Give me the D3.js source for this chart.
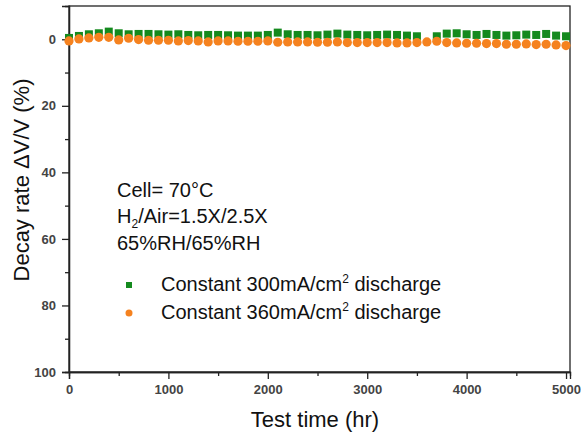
<!DOCTYPE html>
<html>
<head>
<meta charset="utf-8">
<script src="https://cdn.jsdelivr.net/npm/d3@7"></script>
<style>
  body { margin: 0; background: #fff; }
  svg text { font-family: "Liberation Sans", Arial, sans-serif; }
</style>
</head>
<body>
<svg id="chart" width="581" height="436"></svg>
<script>
// ---- data ----
const times = [0,100,200,300,400,500,600,700,800,900,1000,1100,1200,1300,1400,1500,1600,1700,1800,1900,
  2000,2100,2200,2300,2400,2500,2600,2700,2800,2900,3000,3100,3200,3300,3400,3500,3600,3700,3800,3900,
  4000,4100,4200,4300,4400,4500,4600,4700,4800,4900,5000];
const decay300 = [-0.4,-1.0,-1.5,-1.8,-2.3,-1.8,-1.5,-1.6,-1.6,-1.5,-1.4,-1.5,-1.3,-1.2,-1.3,-1.3,-1.2,-1.1,-1.1,-1.1,
  -1.3,-2.0,-1.5,-1.3,-1.3,-1.2,-1.4,-1.7,-1.4,-1.3,-1.2,-1.3,-1.4,-1.3,-1.1,-0.9,null,-0.9,-1.7,-1.8,
  -1.5,-1.3,-1.6,-1.3,-1.1,-1.2,-1.4,-1.3,-1.6,-1.1,-0.9];
const decay360 = [0.5,-0.1,-0.4,-0.6,-0.6,0.2,-0.3,0.1,0.3,0.3,0.3,0.5,0.4,0.5,0.8,0.5,0.5,0.6,0.6,0.6,
  0.5,0.9,0.8,0.8,0.8,0.9,0.9,0.8,1.0,1.0,1.0,1.0,1.0,1.1,1.1,1.0,0.8,0.6,1.0,1.1,
  1.2,1.2,1.3,1.3,1.5,1.5,1.4,1.6,1.5,1.7,1.9];
const xTicks = [0,1000,2000,3000,4000,5000];
const xMinorTicks = [500,1500,2500,3500,4500];
const yTicks = [0,20,40,60,80,100];
const yMinorTicks = [10,30,50,70,90];
const seriesNames = ["Constant 300mA/cm", "Constant 360mA/cm"];
const seriesColors = ["#148a1e", "#f5821f"];
const notes = ["Cell= 70°C", "65%RH/65%RH"];

// ---- layout ----
const svg = d3.select("#chart");
const L = 69, R = 570, T = 6, B = 372;
const x = d3.scaleLinear().domain([0, 5040]).range([L, R]);
const y = d3.scaleLinear().domain([-10, 100]).range([T, B]);
const axisColor = "#222";

// frame
svg.append("rect").attr("x", L).attr("y", T).attr("width", R - L).attr("height", B - T)
  .attr("fill", "none").attr("stroke", axisColor).attr("stroke-width", 1.3);

// x axis
const gx = svg.append("g").attr("transform", `translate(0,${B})`);
gx.call(d3.axisBottom(x).tickValues(xTicks).tickSize(7).tickPadding(6).tickFormat(d3.format("d")));
gx.append("g").call(d3.axisBottom(x).tickValues(xMinorTicks).tickSize(4).tickFormat(""));
// y axis
const gy = svg.append("g").attr("transform", `translate(${L},0)`);
gy.call(d3.axisLeft(y).tickValues(yTicks).tickSize(7).tickPadding(6).tickFormat(d3.format("d")));
gy.append("g").call(d3.axisLeft(y).tickValues(yMinorTicks).tickSize(4).tickFormat(""));

svg.selectAll(".domain").attr("stroke", axisColor).attr("stroke-width", 1.3);
svg.selectAll(".tick line").attr("stroke", axisColor).attr("stroke-width", 1.3);
svg.selectAll(".tick text").attr("fill", "#444").style("font-size", "13px").style("font-weight", "bold")
  .style("font-family", "'Liberation Sans', Arial, sans-serif");

// axis titles
svg.append("text").attr("x", 315).attr("y", 427).attr("text-anchor", "middle")
  .style("font-size", "22px").attr("fill", "#111").text("Test time (hr)");
svg.append("text").attr("transform", `translate(29,${180}) rotate(-90)`).attr("text-anchor", "middle")
  .style("font-size", "22px").attr("fill", "#111").text("Decay rate ΔV/V (%)");

// data marks
const plot = svg.append("g");
const d300 = times.map((t, i) => ({t, v: decay300[i]})).filter(d => d.v !== null);
const d360 = times.map((t, i) => ({t, v: decay360[i]})).filter(d => d.v !== null);
const sq = 8;
plot.selectAll("rect.s300").data(d300).enter().append("rect")
  .attr("x", d => x(d.t) - sq / 2).attr("y", d => y(d.v) - sq / 2)
  .attr("width", sq).attr("height", sq).attr("fill", seriesColors[0]);
plot.selectAll("circle.s360").data(d360).enter().append("circle")
  .attr("cx", d => x(d.t)).attr("cy", d => y(d.v)).attr("r", 4.6)
  .attr("fill", seriesColors[1]);

// annotations
const fs = "20px";
const ann = svg.append("g").attr("fill", "#111").style("font-size", fs);
ann.append("text").attr("x", 117).attr("y", 197).text(notes[0]);
const h2 = ann.append("text").attr("x", 117).attr("y", 223);
h2.append("tspan").text("H");
h2.append("tspan").attr("dy", 5).style("font-size", "12px").text("2");
h2.append("tspan").attr("dy", -5).text("/Air=1.5X/2.5X");
ann.append("text").attr("x", 117).attr("y", 250).text(notes[1]);

// legend
const legY = [285, 313];
seriesNames.forEach((name, i) => {
  if (i === 0) {
    svg.append("rect").attr("x", 129 - 3).attr("y", legY[i] - 3).attr("width", 6).attr("height", 6)
      .attr("fill", seriesColors[i]);
  } else {
    svg.append("circle").attr("cx", 129).attr("cy", legY[i]).attr("r", 3.5).attr("fill", seriesColors[i]);
  }
  const t = svg.append("text").attr("x", 161).attr("y", legY[i] + 6).attr("fill", "#111").style("font-size", fs);
  t.append("tspan").text(name);
  t.append("tspan").attr("dy", -8).style("font-size", "12px").text("2");
  t.append("tspan").attr("dy", 8).text(" discharge");
});
</script>
</body>
</html>
